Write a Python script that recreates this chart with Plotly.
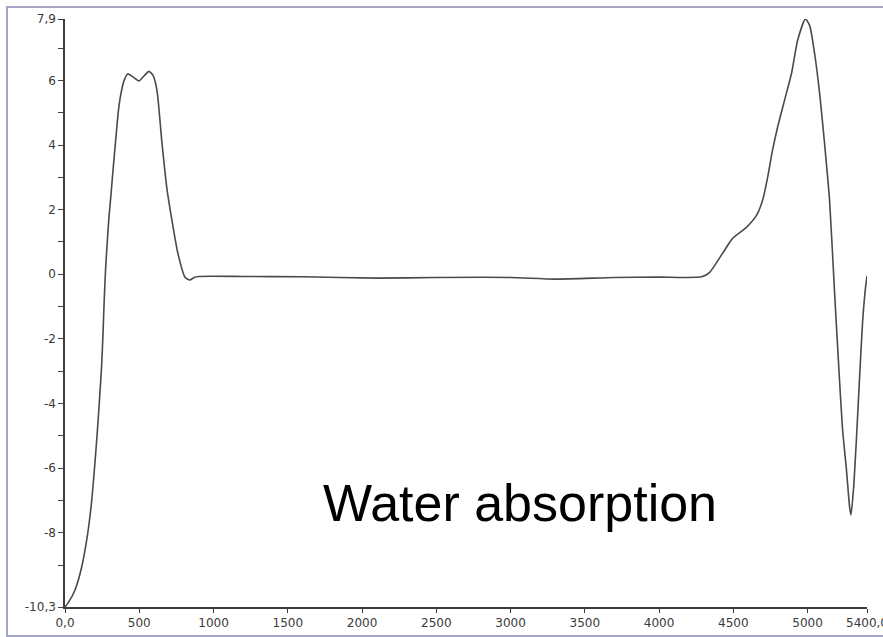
import plotly.graph_objects as go

# ---- data ----
time_s = [0, 20, 67, 112, 153, 180, 199, 217, 232, 246, 256, 264, 274, 284, 296,
          308, 325, 343, 360, 377, 398,
          422, 460, 498, 535, 565, 592, 619, 653, 686, 720, 760, 808, 840, 870, 900,
          1200, 1600, 2100, 2500, 3000, 3300, 3700, 4000, 4287,
          4341, 4428, 4495, 4590, 4657, 4697, 4731, 4764, 4798, 4845, 4892, 4933,
          4985, 5013, 5047, 5081, 5114, 5148, 5182, 5215, 5236, 5262, 5283,
          5292, 5310, 5330, 5350, 5370, 5388, 5400]
signal = [-10.3, -10.18, -9.78, -9.07, -8.02, -7.0, -5.98, -4.92, -3.90, -2.88,
          -1.83, -0.80, 0.22, 0.96, 1.76, 2.38, 3.31, 4.24, 5.08, 5.60, 6.0,
          6.20, 6.10, 5.98, 6.15, 6.28, 6.16, 5.70, 4.06, 2.66, 1.67, 0.65, -0.09,
          -0.18, -0.10, -0.07,
          -0.07, -0.08, -0.12, -0.10, -0.10, -0.15, -0.10, -0.09, -0.08,
          0.06, 0.65, 1.11, 1.46, 1.83, 2.29, 3.00, 3.84, 4.55, 5.39, 6.22, 7.24,
          7.90, 7.71, 6.84, 5.60, 4.06, 2.29, -0.60, -3.28, -4.83, -6.07, -7.21,
          -7.45, -6.6, -5.0, -3.2, -1.5, -0.5, -0.05]

x_ticks = [0, 500, 1000, 1500, 2000, 2500, 3000, 3500, 4000, 4500, 5000, 5400]
x_labels = ["0,0", "500", "1000", "1500", "2000", "2500", "3000", "3500",
            "4000", "4500", "5000", "5400,0"]
y_ticks = [7.9, 7, 6, 5, 4, 3, 2, 1, 0, -1, -2, -3, -4, -5, -6, -7, -8, -9, -10.3]
y_labels = ["7,9", "", "6", "", "4", "", "2", "", "0", "", "-2", "", "-4", "",
            "-6", "", "-8", "", "-10,3"]
caption = "Water absorption"

fig = go.Figure()
fig.add_trace(go.Scatter(
    x=time_s, y=signal, mode="lines",
    line=dict(color="#4a4a4a", width=1.6, shape="spline", smoothing=0.6),
    hoverinfo="skip", showlegend=False,
))

axis_common = dict(
    showgrid=False, zeroline=False, showline=True, linecolor="#3c3c3c",
    linewidth=1.5, ticks="outside", tickcolor="#3c3c3c", tickwidth=1.2,
    automargin=False,
    tickfont=dict(family="DejaVu Sans", size=12, color="#3a3a3a"),
)
fig.update_xaxes(range=[0, 5400], tickmode="array", tickvals=x_ticks,
                 ticktext=x_labels, ticklen=4, ticklabeloverflow="allow",
                 **axis_common)
fig.update_yaxes(range=[-10.3, 7.9], tickmode="array", tickvals=y_ticks,
                 ticktext=y_labels, ticklen=5, **axis_common)

# outer frame of the picture
fig.add_shape(type="rect", xref="paper", yref="paper",
              x0=-0.0723, x1=1.03, y0=-0.0493, y1=1.0204,
              line=dict(color="#a4a4c4", width=2), layer="below")

fig.add_annotation(text=caption, xref="paper", yref="paper", x=0.567, y=0.177,
                   showarrow=False, xanchor="center", yanchor="middle",
                   font=dict(family="Liberation Sans, Arial", size=52,
                             color="#000000"))

fig.update_layout(
    width=883, height=637,
    margin=dict(l=65, r=16, t=19, b=30, autoexpand=False),
    plot_bgcolor="white", paper_bgcolor="white",
)

fig.write_html("out.html")
